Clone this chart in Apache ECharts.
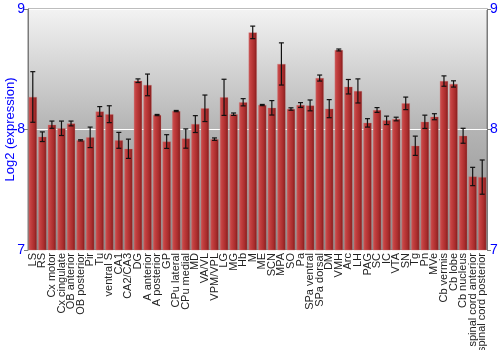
<!DOCTYPE html>
<html><head><meta charset="utf-8">
<script src="https://cdn.jsdelivr.net/npm/echarts@6/dist/echarts.min.js"></script>
<style>html,body{margin:0;padding:0;background:#fff}#c{width:500px;height:350px}</style>
</head><body><div id="c"></div>
<script>
const categories = ["LS","RS","Cx motor","Cx cingulate","OB anterior","OB posterior","Pir","Tu","ventral S","CA1","CA2/CA3","DG","A anterior","A posterior","GP","CPu lateral","CPu medial","MD","VA/VL","VPM/VPL","LG","MG","Hb","M","ME","SCN","MPA","SO","Pa","SPa ventral","SPa dorsal","DM","VMH","Arc","LH","PAG","SC","IC","VTA","SN","Tg","Pn","MVe","Cb vermis","Cb lobe","Cb nucleus","spinal cord anterior","spinal cord posterior"];
const means = [8.27,7.94,8.04,8.01,8.05,7.91,7.935,8.15,8.127,7.91,7.84,8.405,8.37,8.12,7.90,8.153,7.925,8.045,8.176,7.92,8.267,8.127,8.226,8.806,8.203,8.18,8.544,8.17,8.203,8.2,8.427,8.173,8.66,8.355,8.32,8.055,8.162,8.076,8.087,8.217,7.865,8.064,8.106,8.402,8.378,7.948,7.61,7.605];
const errs = [0.21,0.04,0.03,0.06,0.02,0.005,0.085,0.04,0.07,0.066,0.08,0.015,0.09,0.005,0.057,0.005,0.08,0.07,0.11,0.01,0.15,0.01,0.03,0.052,0.005,0.06,0.175,0.01,0.02,0.045,0.025,0.075,0.008,0.06,0.1,0.035,0.02,0.035,0.015,0.052,0.08,0.055,0.025,0.043,0.026,0.062,0.076,0.142];
const yTicks = [7, 8, 9];

const chart = echarts.init(document.getElementById('c'), null, {renderer: 'canvas'});
const errData = means.map((m, i) => [i, m - errs[i], m + errs[i]]);
const blue = '#0000ff';
const yAxisBase = {
  type: 'value', min: yTicks[0], max: yTicks[yTicks.length - 1], interval: 1,
  axisLine: {show: true, lineStyle: {color: '#7a7a7a', width: 1}},
  axisTick: {show: true, length: 4, lineStyle: {color: '#7a7a7a'}},
  axisLabel: {color: blue, fontSize: 14, fontFamily: 'Liberation Sans, Arial, sans-serif', margin: 3}
};
chart.setOption({
  animation: false,
  grid: {
    left: 28, right: 13, top: 9, bottom: 100, show: true,
    outerBoundsMode: 'none', containLabel: false,
    borderColor: '#7a7a7a', borderWidth: 1,
    backgroundColor: new echarts.graphic.LinearGradient(0, 0, 0, 1, [
      {offset: 0, color: '#f3f3f3'},
      {offset: 0.5, color: '#b4b4b4'},
      {offset: 1, color: '#8a8a8a'}
    ])
  },
  xAxis: {
    type: 'category', data: categories,
    axisLine: {show: false}, axisTick: {show: false},
    axisLabel: {interval: 0, rotate: 90, fontSize: 11, color: '#222', margin: 3,
      fontFamily: 'Liberation Sans, Arial, sans-serif'}
  },
  yAxis: [
    Object.assign({}, yAxisBase, {
      position: 'left',
      name: 'Log2 (expression)', nameLocation: 'middle', nameGap: 11, nameMoveOverlap: false,
      nameTextStyle: {color: blue, fontSize: 13, fontFamily: 'Liberation Sans, Arial, sans-serif'},
      splitLine: {show: true, lineStyle: {color: '#ffffff', width: 1}}
    }),
    Object.assign({}, yAxisBase, {position: 'right', splitLine: {show: false}})
  ],
  series: [
    {
      type: 'bar', data: means, barWidth: '87%', yAxisIndex: 0,
      itemStyle: {
        color: new echarts.graphic.LinearGradient(0, 0, 1, 0, [
          {offset: 0, color: '#c85a5a'},
          {offset: 0.25, color: '#c44040'},
          {offset: 0.7, color: '#a82c2c'},
          {offset: 1, color: '#7e1a1a'}
        ]),
        borderColor: 'rgba(210,120,120,0.6)', borderWidth: 0.5
      }
    },
    {
      type: 'custom', yAxisIndex: 0, data: errData, z: 5,
      renderItem: function (params, api) {
        const x = api.value(0);
        const lo = api.coord([x, api.value(1)]);
        const hi = api.coord([x, api.value(2)]);
        const w = 2.5;
        const st = {stroke: '#111', lineWidth: 1.2};
        return {type: 'group', children: [
          {type: 'line', shape: {x1: lo[0], y1: lo[1], x2: hi[0], y2: hi[1]}, style: st},
          {type: 'line', shape: {x1: hi[0] - w, y1: hi[1], x2: hi[0] + w, y2: hi[1]}, style: st},
          {type: 'line', shape: {x1: lo[0] - w, y1: lo[1], x2: lo[0] + w, y2: lo[1]}, style: st}
        ]};
      }
    }
  ]
});
</script></body></html>
